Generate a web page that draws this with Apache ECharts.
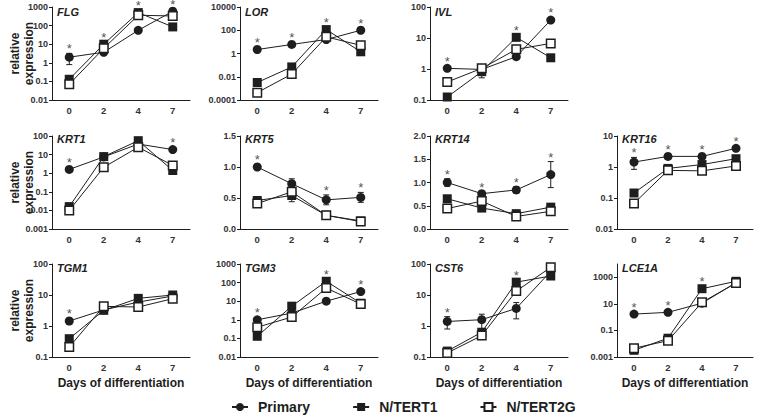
<!DOCTYPE html>
<html><head><meta charset="utf-8">
<script src="https://cdn.jsdelivr.net/npm/echarts@6/dist/echarts.min.js"></script>
<style>html,body{margin:0;padding:0;background:#fff}#c{width:760px;height:417px}</style>
</head><body><div id="c"></div>
<script>
const days = ['0', '2', '4', '7'];
const seriesNames = ['Primary', 'N/TERT1', 'N/TERT2G'];
const xName = 'Days of differentiation';
const yName = 'relative\nexpression';

// FLG
const FLG_primary = [2.0, 3.7, 56, 590];
const FLG_ntert1 = [0.13, 10, 500, 85];
const FLG_ntert2g = [0.07, 6, 360, 330];
const FLG_errPrimary = [1.2, 0, 0, 0];
const FLG_sig = [1, 1, 1, 1];
const FLG_ticks = [0.01, 0.1, 1, 10, 100, 1000];
// LOR
const LOR_primary = [2.2, 6, 16, 100];
const LOR_ntert1 = [0.0032, 0.07, 114, 1.4];
const LOR_ntert2g = [0.00043, 0.017, 27, 5];
const LOR_errPrimary = [0, 0, 0, 0];
const LOR_sig = [1, 1, 1, 1];
const LOR_ticks = [0.0001, 0.01, 1, 100, 10000];
// IVL
const IVL_primary = [1.05, 0.97, 2.5, 38];
const IVL_ntert1 = [0.125, 0.82, 10.5, 2.3];
const IVL_ntert2g = [0.38, 1.05, 4.3, 6.7];
const IVL_errPrimary = [0, 0, 0, 0];
const IVL_errNtert1 = [0, 0.3, 0, 0];
const IVL_sig = [1, 0, 1, 1];
const IVL_ticks = [0.1, 1, 10, 100];
// KRT1
const KRT1_primary = [1.6, 7.5, 37, 18.6];
const KRT1_ntert1 = [0.016, 7.8, 56, 1.4];
const KRT1_ntert2g = [0.01, 2.1, 25, 2.6];
const KRT1_errPrimary = [0, 0, 0, 0];
const KRT1_sig = [1, 0, 0, 1];
const KRT1_ticks = [0.001, 0.01, 0.1, 1, 10, 100];
// KRT5
const KRT5_primary = [1.0, 0.73, 0.47, 0.51];
const KRT5_ntert1 = [0.46, 0.54, 0.22, 0.13];
const KRT5_ntert2g = [0.41, 0.6, 0.22, 0.12];
const KRT5_errPrimary = [0, 0.08, 0.08, 0.08];
const KRT5_errNtert1 = [0, 0.1, 0, 0];
const KRT5_sig = [1, 0, 1, 1];
const KRT5_ticks = [0, 0.5, 1.0, 1.5];
// KRT14
const KRT14_primary = [1.0, 0.76, 0.84, 1.17];
const KRT14_ntert1 = [0.65, 0.45, 0.33, 0.47];
const KRT14_ntert2g = [0.44, 0.6, 0.27, 0.38];
const KRT14_errPrimary = [0.08, 0.03, 0.07, 0.28];
const KRT14_sig = [1, 1, 1, 1];
const KRT14_ticks = [0, 0.5, 1.0, 1.5, 2.0];
// KRT16
const KRT16_primary = [1.44, 2.2, 2.2, 4.0];
const KRT16_ntert1 = [0.145, 0.9, 1.2, 1.85];
const KRT16_ntert2g = [0.067, 0.78, 0.75, 1.08];
const KRT16_errPrimary = [0.6, 0, 0, 0];
const KRT16_sig = [1, 1, 1, 1];
const KRT16_ticks = [0.01, 0.1, 1, 10];
// TGM1
const TGM1_primary = [1.45, 3.3, 5.9, 9.3];
const TGM1_ntert1 = [0.39, 3.2, 7.8, 10];
const TGM1_ntert2g = [0.21, 4.3, 4.1, 7.6];
const TGM1_errPrimary = [0.3, 0, 0, 0];
const TGM1_sig = [1, 0, 0, 0];
const TGM1_ticks = [0.1, 1, 10, 100];
// TGM3
const TGM3_primary = [1.0, 2.3, 10, 33];
const TGM3_ntert1 = [0.13, 5.4, 118, 7.8];
const TGM3_ntert2g = [0.4, 1.4, 51, 7];
const TGM3_errPrimary = [0, 0, 0, 0];
const TGM3_sig = [1, 0, 1, 1];
const TGM3_ticks = [0.01, 0.1, 1, 10, 100, 1000];
// CST6
const CST6_primary = [1.4, 1.6, 3.7, 58];
const CST6_ntert1 = [0.155, 0.63, 26, 41];
const CST6_ntert2g = [0.135, 0.49, 13.4, 78];
const CST6_errPrimary = [0.6, 0.8, 2.0, 0];
const CST6_sig = [1, 0, 1, 0];
const CST6_ticks = [0.1, 1, 10, 100];
// LCE1A
const LCE1A_primary = [1.7, 2.3, 11.2, 390];
const LCE1A_ntert1 = [0.0032, 0.026, 138, 500];
const LCE1A_ntert2g = [0.0046, 0.017, 13, 370];
const LCE1A_errPrimary = [0, 0, 0, 0];
const LCE1A_sig = [1, 1, 1, 0];
const LCE1A_ticks = [0.001, 0.1, 10, 1000];
const LCE1A_range = [0.001, 10000];

const panels = [
  {gene: 'FLG', p: FLG_primary, t1: FLG_ntert1, t2: FLG_ntert2g, eP: FLG_errPrimary, sig: FLG_sig, ticks: FLG_ticks, log: true, row: 0, col: 0},
  {gene: 'LOR', p: LOR_primary, t1: LOR_ntert1, t2: LOR_ntert2g, eP: LOR_errPrimary, sig: LOR_sig, ticks: LOR_ticks, log: true, row: 0, col: 1},
  {gene: 'IVL', p: IVL_primary, t1: IVL_ntert1, t2: IVL_ntert2g, eP: IVL_errPrimary, eT1: IVL_errNtert1, sig: IVL_sig, ticks: IVL_ticks, log: true, row: 0, col: 2},
  {gene: 'KRT1', p: KRT1_primary, t1: KRT1_ntert1, t2: KRT1_ntert2g, eP: KRT1_errPrimary, sig: KRT1_sig, ticks: KRT1_ticks, log: true, row: 1, col: 0},
  {gene: 'KRT5', p: KRT5_primary, t1: KRT5_ntert1, t2: KRT5_ntert2g, eP: KRT5_errPrimary, eT1: KRT5_errNtert1, sig: KRT5_sig, ticks: KRT5_ticks, log: false, row: 1, col: 1},
  {gene: 'KRT14', p: KRT14_primary, t1: KRT14_ntert1, t2: KRT14_ntert2g, eP: KRT14_errPrimary, sig: KRT14_sig, ticks: KRT14_ticks, log: false, row: 1, col: 2},
  {gene: 'KRT16', p: KRT16_primary, t1: KRT16_ntert1, t2: KRT16_ntert2g, eP: KRT16_errPrimary, sig: KRT16_sig, ticks: KRT16_ticks, log: true, row: 1, col: 3},
  {gene: 'TGM1', p: TGM1_primary, t1: TGM1_ntert1, t2: TGM1_ntert2g, eP: TGM1_errPrimary, sig: TGM1_sig, ticks: TGM1_ticks, log: true, row: 2, col: 0},
  {gene: 'TGM3', p: TGM3_primary, t1: TGM3_ntert1, t2: TGM3_ntert2g, eP: TGM3_errPrimary, sig: TGM3_sig, ticks: TGM3_ticks, log: true, row: 2, col: 1},
  {gene: 'CST6', p: CST6_primary, t1: CST6_ntert1, t2: CST6_ntert2g, eP: CST6_errPrimary, sig: CST6_sig, ticks: CST6_ticks, log: true, row: 2, col: 2},
  {gene: 'LCE1A', p: LCE1A_primary, t1: LCE1A_ntert1, t2: LCE1A_ntert2g, eP: LCE1A_errPrimary, sig: LCE1A_sig, ticks: LCE1A_ticks, range: LCE1A_range, log: true, row: 2, col: 3}
];

// layout
const colLeft = [52, 240, 430, 617];
const colWidth = [138, 138, 138, 136];
const rowTop = [7, 136, 264];
const titleTop = [6, 133, 262];
const gridH = 93;
const INK = '#1e1e1e';
const FONT = '"Liberation Sans", Arial, Helvetica, sans-serif';

function fmt(v, log) {
  if (log) return String(parseFloat(Number(v).toPrecision(6)));
  return Number(v).toFixed(1);
}

const grid = [], xAxis = [], yAxis = [], series = [], title = [];
panels.forEach((pn, i) => {
  const rng = pn.range || [pn.ticks[0], pn.ticks[pn.ticks.length - 1]];
  grid.push({left: colLeft[pn.col], top: rowTop[pn.row], width: colWidth[pn.col], height: gridH});
  title.push({
    text: pn.gene, left: colLeft[pn.col] + 5, top: titleTop[pn.row], padding: 0,
    textStyle: {fontStyle: 'italic', fontWeight: 'bold', fontSize: 11, color: INK, fontFamily: FONT}
  });
  xAxis.push({
    type: 'category', gridIndex: i, data: days, boundaryGap: true,
    axisLine: {lineStyle: {color: INK, width: 1}},
    axisTick: {alignWithLabel: true, length: 3, lineStyle: {color: INK, width: 1}},
    axisLabel: {fontSize: 9.5, fontWeight: 'bold', color: '#333', margin: 5, fontFamily: FONT},
    splitLine: {show: false},
    name: pn.row === 2 ? xName : '', nameLocation: 'middle', nameGap: 20,
    nameTextStyle: {fontSize: 12, fontWeight: 'bold', color: INK, fontFamily: FONT}
  });
  const ya = {
    type: pn.log ? 'log' : 'value', gridIndex: i, min: rng[0], max: rng[1],
    axisLine: {show: true, lineStyle: {color: INK, width: 1}},
    axisTick: {show: true, length: 3, lineStyle: {color: INK, width: 1}},
    axisLabel: {fontSize: 9, fontWeight: 'bold', color: '#333', margin: 4, fontFamily: FONT,
      formatter: v => fmt(v, pn.log)},
    splitLine: {show: false}
  };
  if (pn.log) {
    ya.logBase = 10;
    ya.axisTick.customValues = pn.ticks;
    ya.axisLabel.customValues = pn.ticks;
  } else {
    ya.interval = 0.5;
  }
  yAxis.push(ya);

  const defs = [
    {name: seriesNames[0], data: pn.p, symbol: 'circle', size: 9, fill: INK, bw: 0, err: pn.eP},
    {name: seriesNames[1], data: pn.t1, symbol: 'rect', size: 9, fill: INK, bw: 0, err: pn.eT1},
    {name: seriesNames[2], data: pn.t2, symbol: 'rect', size: 8.5, fill: '#fff', bw: 1.5, err: pn.eT2}
  ];
  const errData = [];
  defs.forEach((d, k) => {
    series.push({
      type: 'line', name: d.name, xAxisIndex: i, yAxisIndex: i, data: d.data,
      symbol: d.symbol, symbolSize: d.size, showAllSymbol: true, color: d.fill,
      lineStyle: {color: INK, width: 1},
      itemStyle: {color: d.fill, borderColor: INK, borderWidth: d.bw},
      z: 3 + k, animation: false, emphasis: {disabled: true}
    });
    if (d.err) d.err.forEach((e, j) => {
      if (e > 0) {
        const v = d.data[j];
        let lo = v - e;
        if (lo <= rng[0]) lo = v * 0.6;
        errData.push([j, lo, v + e]);
      }
    });
  });
  series.push({
    type: 'custom', xAxisIndex: i, yAxisIndex: i, data: errData, z: 2, animation: false, silent: true,
    color: INK, encode: {x: 0, y: [1, 2]},
    renderItem: (params, api) => {
      const x = api.value(0);
      const a = api.coord([x, api.value(1)]);
      const b = api.coord([x, api.value(2)]);
      const w = 3;
      const st = {stroke: INK, lineWidth: 1};
      return {type: 'group', children: [
        {type: 'line', shape: {x1: a[0], y1: a[1], x2: b[0], y2: b[1]}, style: st},
        {type: 'line', shape: {x1: b[0] - w, y1: b[1], x2: b[0] + w, y2: b[1]}, style: st},
        {type: 'line', shape: {x1: a[0] - w, y1: a[1], x2: a[0] + w, y2: a[1]}, style: st}
      ]};
    }
  });
  // significance asterisks above the highest mark of each day
  const starData = [];
  pn.sig.forEach((s, j) => {
    if (!s) return;
    let top = -Infinity, fromErr = false;
    defs.forEach(d => {
      const e = d.err ? d.err[j] : 0;
      if (d.data[j] + e > top) { top = d.data[j] + e; fromErr = e > 0; }
    });
    starData.push({value: [j, top], label: {distance: fromErr ? 0.5 : 3, color: INK}});
  });
  series.push({
    type: 'scatter', xAxisIndex: i, yAxisIndex: i, data: starData, symbolSize: 0.1,
    color: INK, itemStyle: {color: INK}, silent: true, animation: false, z: 6,
    label: {show: true, formatter: '*', position: 'top', distance: 3,
      fontSize: 13, lineHeight: 8, color: INK, fontFamily: FONT, textBorderWidth: 0}
  });
});

const graphic = [0, 1, 2].map(r => ({
  type: 'text', x: 22, y: rowTop[r] + gridH / 2, rotation: Math.PI / 2,
  style: {text: yName, font: 'bold 12px ' + FONT, fill: INK, align: 'center', verticalAlign: 'middle', lineHeight: 14}
}));

const chart = echarts.init(document.getElementById('c'), null, {renderer: 'svg'});
chart.setOption({
  animation: false,
  backgroundColor: '#fff',
  title, grid, xAxis, yAxis, series, graphic,
  legend: {
    data: seriesNames, top: 395, left: 226, itemWidth: 16, itemHeight: 10, itemGap: 42,
    selectedMode: false,
    textStyle: {fontSize: 14, fontWeight: 'bold', color: INK, fontFamily: FONT, padding: [0, 0, 0, 5]}
  }
});
</script>
</body></html>
